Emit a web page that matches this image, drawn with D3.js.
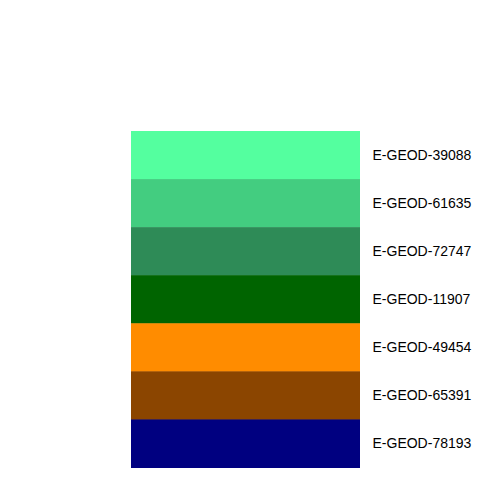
<!DOCTYPE html>
<html><head><meta charset="utf-8">
<script src="https://cdn.jsdelivr.net/npm/d3@7"></script>
<style>body{margin:0;background:#fff}</style>
</head><body>
<svg id="c" width="480" height="480"></svg>
<script>
const categories = ["E-GEOD-39088","E-GEOD-61635","E-GEOD-72747","E-GEOD-11907","E-GEOD-49454","E-GEOD-65391","E-GEOD-78193"];
const colors = ["#54FF9F","#43CD80","#2E8B57","#006400","#FF8C00","#8B4500","#000080"];
const svg = d3.select("#c");
const y = d3.scaleBand().domain(categories).range([131, 467.5]).padding(0);
const x0 = 131, x1 = 360;
svg.selectAll("rect").data(categories).join("rect")
  .attr("x", x0).attr("width", x1 - x0)
  .attr("y", d => y(d)).attr("height", y.bandwidth() + 0.5)
  .attr("fill", (d,i) => colors[i]);
svg.selectAll("text").data(categories).join("text")
  .attr("x", 372.5).attr("y", d => y(d) + y.bandwidth()/2 + 5)
  .attr("font-family", "Liberation Sans, Arial, sans-serif")
  .attr("font-size", 14)
  .attr("fill", "#000")
  .text(d => d);
</script>
</body></html>
